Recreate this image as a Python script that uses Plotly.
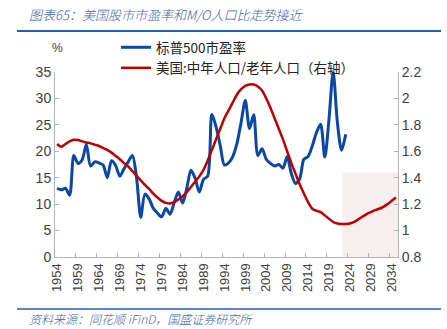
import plotly.graph_objects as go

years_pe = list(range(1954, 2024))
pe = [13.0, 12.7, 13.0, 11.7, 19.2, 17.7, 18.4, 21.3, 17.2, 18.0,
      17.8, 17.4, 15.0, 18.2, 17.3, 15.3, 16.7, 18.0, 19.2, 15.0,
      7.5, 11.9, 11.0, 9.2, 8.3, 7.6, 9.2, 8.1, 10.3, 12.3,
      10.2, 13.0, 16.4, 14.9, 12.3, 14.7, 15.3, 27.0, 24.6, 21.1,
      17.4, 17.8, 19.0, 21.5, 25.5, 29.6, 24.3, 26.9, 19.2, 20.5,
      18.5, 17.7, 17.2, 17.5, 16.8, 19.0, 15.8, 13.9, 14.8, 18.5,
      19.0, 21.0, 23.5, 25.1, 18.9, 26.0, 35.0, 25.5, 20.2, 23.2]

years_mo = list(range(1954, 2036))
mo = [1.655, 1.635, 1.655, 1.675, 1.687, 1.685, 1.675, 1.667, 1.66, 1.65,
      1.64, 1.625, 1.61, 1.59, 1.565, 1.54, 1.51, 1.485, 1.45, 1.415,
      1.38, 1.345, 1.315, 1.28, 1.25, 1.225, 1.21, 1.205, 1.215, 1.235,
      1.26, 1.29, 1.33, 1.37, 1.41, 1.46, 1.53, 1.61, 1.69, 1.77,
      1.85, 1.91, 1.97, 2.03, 2.07, 2.095, 2.105, 2.105, 2.09, 2.06,
      2.0, 1.93, 1.85, 1.77, 1.69, 1.6, 1.51, 1.43, 1.35, 1.28,
      1.215, 1.165, 1.15, 1.14, 1.115, 1.09, 1.065, 1.053, 1.05, 1.05,
      1.053, 1.065, 1.085, 1.105, 1.125, 1.14, 1.155, 1.165, 1.18, 1.2,
      1.225, 1.25]

label_years = list(range(1954, 2035, 5))
left_ticks = [0, 5, 10, 15, 20, 25, 30, 35]
right_ticks = [0.8, 1.0, 1.2, 1.4, 1.6, 1.8, 2.0, 2.2]
forecast_start = 2022.2
forecast_top = 16

BLUE = "#0b47a5"
RED = "#c00000"
AX = "#b3b3b3"
TXT = "#404040"
FONT = "Liberation Sans, Noto Sans CJK SC, sans-serif"
CJK = "Noto Sans CJK SC, sans-serif"

L, R, T, B = 55, 49, 72, 72
W, H = 447, 329
pw, ph = W - L - R, H - T - B
def px(x): return (x - L) / pw
def py(y): return (H - B - y) / ph

fig = go.Figure()
fig.add_trace(go.Scatter(x=years_pe, y=pe, name="标普500市盈率", mode="lines",
                         line=dict(color=BLUE, width=3, shape="spline", smoothing=0.8)))
fig.add_trace(go.Scatter(x=years_mo, y=mo, name="美国:中年人口/老年人口（右轴）", mode="lines",
                         yaxis="y2",
                         line=dict(color=RED, width=2.5, shape="spline", smoothing=0.8)))

fig.add_shape(type="rect", xref="x", yref="y", x0=forecast_start, x1=2035.5,
              y0=0, y1=forecast_top, fillcolor="#f7eeee", line_width=0, layer="below")

fig.add_shape(type="line", xref="paper", yref="paper", x0=px(17), x1=px(441),
              y0=py(31), y1=py(31), line=dict(color="#1f5fb5", width=2))
fig.add_shape(type="line", xref="paper", yref="paper", x0=px(17), x1=px(441),
              y0=py(309), y1=py(309), line=dict(color="#1f5fb5", width=1.5))

fig.add_annotation(xref="paper", yref="paper", x=px(27), y=py(14), xanchor="left",
                   yanchor="middle", showarrow=False,
                   text="<i>图表65：美国股市市盈率和M/O人口比走势接近</i>",
                   font=dict(family=CJK, size=13, color="#3a64b0", weight=300))
fig.add_annotation(xref="paper", yref="paper", x=px(27), y=py(318), xanchor="left",
                   yanchor="middle", showarrow=False,
                   text="<i>资料来源：同花顺 iFinD，国盛证券研究所</i>",
                   font=dict(family=CJK, size=12, color="#3a64b0", weight=300))
fig.add_annotation(xref="paper", yref="paper", x=px(57), y=py(48), xanchor="center",
                   yanchor="middle", showarrow=False, text="%",
                   font=dict(family=FONT, size=12, color=TXT))

fig.update_layout(
    width=W, height=H, margin=dict(l=L, r=R, t=T, b=B),
    paper_bgcolor="white", plot_bgcolor="white",
    showlegend=True,
    legend=dict(x=px(116), y=py(32), xanchor="left", yanchor="top",
                bgcolor="rgba(0,0,0,0)", font=dict(family=CJK, size=13.5, color="#222"),
                tracegroupgap=0, itemwidth=30),
    xaxis=dict(range=[1953.5, 2035.5], tickmode="array", tickvals=label_years,
               ticktext=[str(y) for y in label_years], tickangle=-90,
               ticks="", showgrid=False, zeroline=False, showline=True,
               linecolor=AX, linewidth=1,
               tickfont=dict(family=FONT, size=13, color=TXT),
               minor=dict(tickvals=[y + 4.5 for y in label_years], ticks="inside",
                          ticklen=4, tickcolor=AX, showgrid=False)),
    yaxis=dict(range=[0, 35], tickmode="array", tickvals=left_ticks,
               ticks="inside", ticklen=4, tickcolor=AX, showgrid=False,
               zeroline=False, showline=True, linecolor=AX, linewidth=1,
               tickfont=dict(family=FONT, size=14, color=TXT)),
    yaxis2=dict(range=[0.8, 2.2], tickmode="array", tickvals=right_ticks,
                ticktext=["0.8", "1", "1.2", "1.4", "1.6", "1.8", "2", "2.2"],
                overlaying="y", side="right", ticks="inside", ticklen=4,
                tickcolor=AX, showgrid=False, zeroline=False, showline=True,
                linecolor=AX, linewidth=1,
                tickfont=dict(family=FONT, size=14, color=TXT)),
)

fig.write_html("out.html")
